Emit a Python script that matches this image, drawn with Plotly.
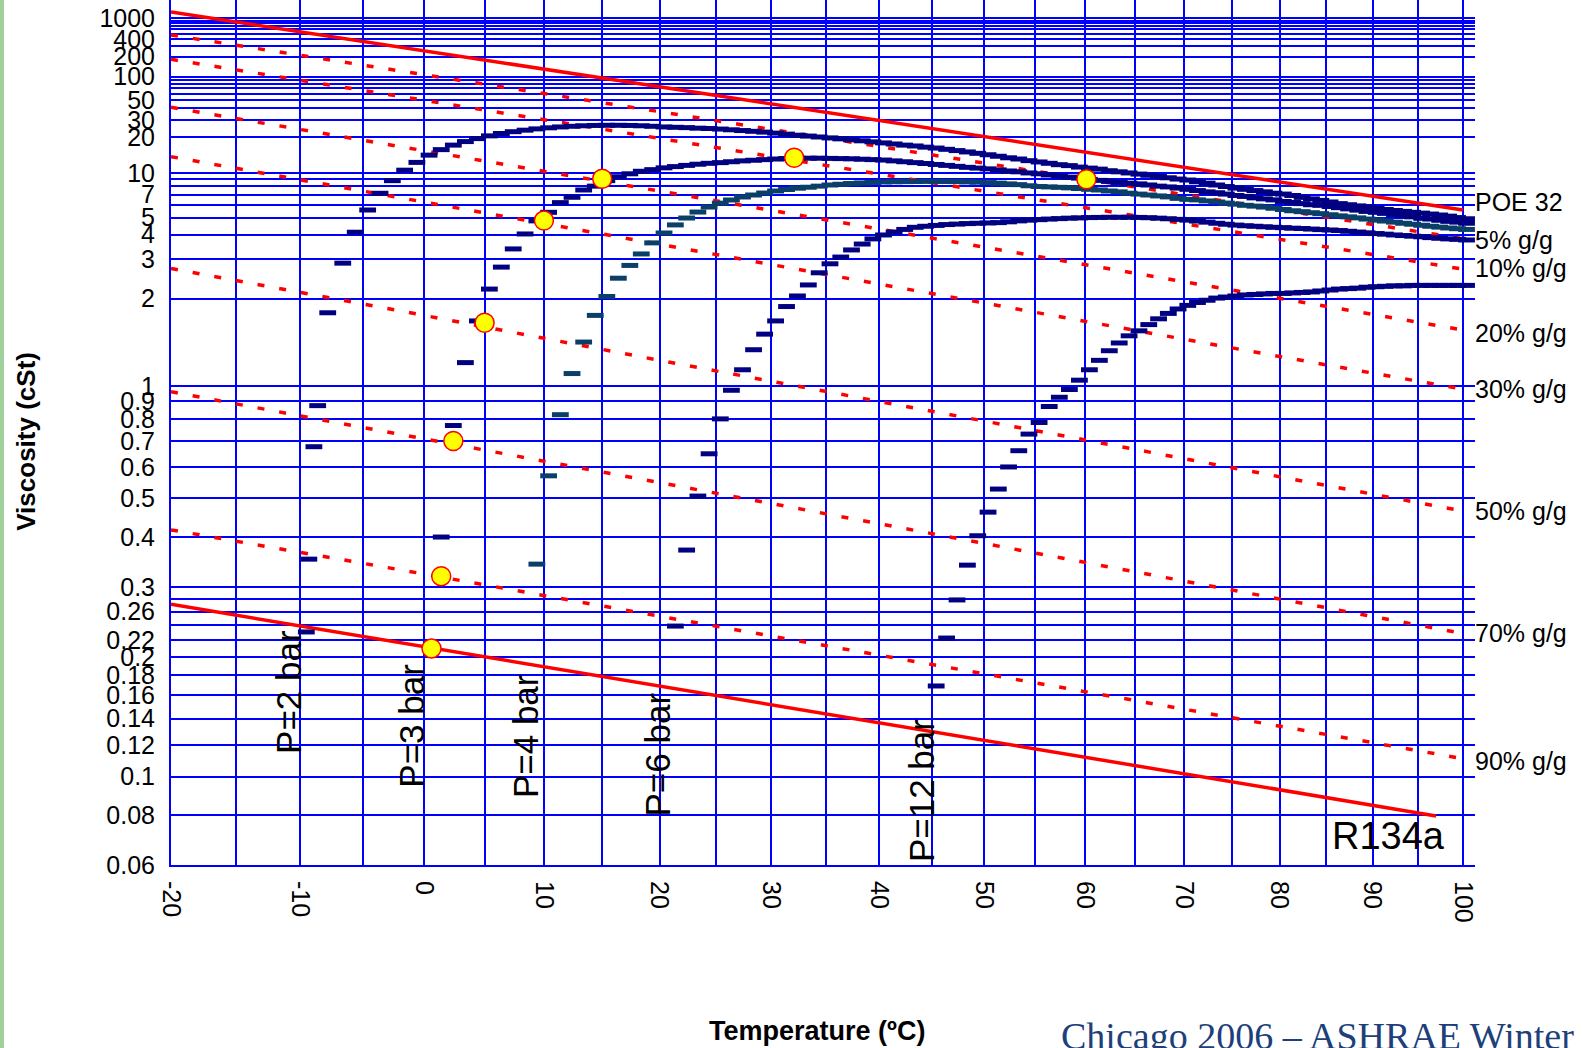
import numpy as np
import plotly.graph_objects as go

# ---------------- data ----------------
# temperatures in degC, kinematic viscosities in cSt

# pure lubricant (POE 32) and pure refrigerant (R134a)
POE_T = [-20, 0, 20, 40, 60, 80, 100]
POE_V = [1365, 249, 73.2, 29.5, 14.8, 8.6, 5.56]

R134A_T = [-20, 0, 20, 40, 60, 80, 97]
R134A_V = [0.271, 0.212, 0.169, 0.1365, 0.112, 0.0927, 0.0797]

# constant-concentration lines (refrigerant mass fraction)
CONC_T = [-20, 0, 20, 40, 60, 80, 100]
CONC_5 = [471, 107.5, 36.7, 16.5, 9.0, 5.58, 3.80]
CONC_10 = [181, 50.0, 19.6, 9.8, 5.73, 3.76, 2.68]
CONC_20 = [41.1, 15.3, 7.39, 4.29, 2.81, 2.0, 1.52]
CONC_30 = [13.5, 6.27, 3.55, 2.30, 1.63, 1.235, 0.977]
CONC_50 = [2.70, 1.72, 1.20, 0.902, 0.704, 0.567, 0.465]
CONC_70 = [0.96, 0.71, 0.548, 0.432, 0.345, 0.279, 0.229]
CONC_90 = [0.417, 0.323, 0.253, 0.202, 0.164, 0.134, 0.111]
CONC_NAMES = ["5% g/g", "10% g/g", "20% g/g", "30% g/g", "50% g/g", "70% g/g", "90% g/g"]

# constant-pressure solubility curves, one point per degree
P2_T_START = [-9.5, -9.3, -8.9, -8.6, -7.8]
P2_V_START = [0.231, 0.352, 0.676, 0.875, 1.76]
P2_T0 = -6.6
P2_V = [2.86, 4.12, 5.56, 7.14, 8.76, 10.5, 12.1, 13.9, 15.5, 17.0,
        18.3, 19.5, 20.7, 21.8, 22.7, 23.5, 24.2, 24.8, 25.3, 25.7,
        26.0, 26.2, 26.3, 26.3, 26.2, 26.0, 25.7, 25.3, 25.1, 24.9,
        24.6, 24.4, 24.1, 23.7, 23.3, 22.9, 22.5, 22.0, 21.5, 21.0,
        20.6, 20.2, 19.8, 19.4, 19.0, 18.6, 18.2, 17.8, 17.4, 17.0,
        16.7, 16.3, 16.0, 15.6, 15.2, 14.8, 14.4, 14.0, 13.6, 13.2,
        12.9, 12.5, 12.2, 11.9, 11.6, 11.4, 11.1, 10.9, 10.7, 10.4,
        10.2, 10.0, 9.8, 9.6, 9.4, 9.2, 9.0, 8.85, 8.6, 8.4,
        8.15, 7.95, 7.75, 7.6, 7.45, 7.3, 7.15, 7.05, 6.9, 6.7,
        6.55, 6.4, 6.25, 6.1, 6.0, 5.9, 5.8, 5.68, 5.6, 5.52,
        5.45, 5.38, 5.32, 5.25, 5.18, 5.1, 5.0, 4.92]

P3_T0 = 1.4
P3_V = [0.400, 0.77, 1.18, 1.64, 2.19, 2.74, 3.36, 4.03, 4.78, 5.38,
        6.19, 6.71, 7.52, 8.0, 8.76, 9.36, 9.85, 10.3, 10.6, 10.95,
        11.2, 11.45, 11.7, 11.9, 12.05, 12.25, 12.45, 12.6, 12.75, 12.9,
        13.0, 13.1, 13.1, 13.1, 13.05, 13.0, 12.95, 12.85, 12.75, 12.65,
        12.45, 12.25, 12.05, 11.85, 11.65, 11.45, 11.25, 11.05, 10.9, 10.75,
        10.55, 10.35, 10.2, 10.0, 9.85, 9.65, 9.5, 9.3, 9.15, 8.95,
        8.8, 8.65, 8.5, 8.4, 8.3, 8.15, 8.0, 7.9, 7.75, 7.6,
        7.45, 7.3, 7.2, 7.05, 6.9, 6.8, 6.65, 6.55, 6.45, 6.3,
        6.2, 6.1, 6.0, 5.95, 5.85, 5.75, 5.65, 5.55, 5.45, 5.38,
        5.3, 5.22, 5.15, 5.05, 4.95, 4.9, 4.82, 4.75, 4.7, 4.63]

P4_T0 = 9.4
P4_V = [0.342, 0.570, 0.825, 1.09, 1.38, 1.72, 2.04, 2.44, 2.79, 3.17,
        3.61, 4.08, 4.53, 4.97, 5.40, 5.80, 6.14, 6.44, 6.74, 6.95,
        7.17, 7.40, 7.58, 7.74, 7.86, 8.0, 8.15, 8.25, 8.35, 8.43,
        8.5, 8.57, 8.6, 8.62, 8.64, 8.65, 8.65, 8.64, 8.62, 8.58,
        8.54, 8.48, 8.4, 8.3, 8.2, 8.05, 7.95, 7.9, 7.85, 7.78,
        7.7, 7.6, 7.52, 7.4, 7.3, 7.15, 7.05, 6.95, 6.85, 6.75,
        6.6, 6.5, 6.45, 6.35, 6.25, 6.15, 6.05, 5.95, 5.88, 5.8,
        5.7, 5.6, 5.5, 5.43, 5.35, 5.28, 5.2, 5.12, 5.05, 4.98,
        4.9, 4.83, 4.77, 4.7, 4.63, 4.57, 4.51, 4.45, 4.4, 4.35,
        4.31, 4.27]

P6_T0 = 21.4
P6_V = [0.239, 0.371, 0.507, 0.648, 0.803, 0.97, 1.12, 1.30, 1.47, 1.64,
        1.86, 2.05, 2.28, 2.58, 2.84, 3.06, 3.32, 3.56, 3.79, 3.98,
        4.13, 4.27, 4.39, 4.45, 4.5, 4.55, 4.58, 4.61, 4.63, 4.65,
        4.67, 4.72, 4.78, 4.83, 4.86, 4.9, 4.93, 4.96, 4.98, 5.0,
        5.01, 5.02, 5.02, 5.02, 5.01, 4.99, 4.96, 4.92, 4.88, 4.83,
        4.77, 4.7, 4.63, 4.57, 4.52, 4.48, 4.45, 4.42, 4.39, 4.37,
        4.34, 4.32, 4.29, 4.26, 4.24, 4.21, 4.17, 4.13, 4.09, 4.05,
        4.02, 3.98, 3.95, 3.92, 3.89, 3.85, 3.82, 3.79, 3.77, 3.74]

P12_T0 = 45.4
P12_V = [0.169, 0.223, 0.278, 0.340, 0.403, 0.462, 0.528, 0.600, 0.66, 0.73,
         0.785, 0.87, 0.925, 0.975, 1.04, 1.12, 1.20, 1.29, 1.37, 1.45,
         1.51, 1.59, 1.67, 1.75, 1.82, 1.88, 1.93, 1.97, 2.01, 2.03,
         2.05, 2.07, 2.08, 2.09, 2.10, 2.10, 2.11, 2.12, 2.13, 2.15,
         2.17, 2.19, 2.20, 2.21, 2.23, 2.24, 2.25, 2.26, 2.26, 2.27,
         2.27, 2.27, 2.27, 2.27, 2.27, 2.27]

# operating points along the 3 bar curve
POINT_T = [0.6, 1.4, 2.4, 5.0, 10.0, 15.0, 32.1, 60.1]
POINT_V = [0.210, 0.319, 0.70, 1.615, 4.80, 9.04, 13.2, 8.96]

# axis ticks
X_GRID_C = list(range(-20, 101, 5))
X_LABEL_C = list(range(-20, 101, 10))
Y_GRID = [1000, 900, 800, 700, 600, 500, 400, 300, 200, 100, 90, 80, 70, 60, 50,
          40, 30, 20, 10, 9, 8, 7, 6, 5, 4, 3, 2, 1, 0.9, 0.8, 0.7, 0.6, 0.5,
          0.4, 0.3, 0.28, 0.26, 0.24, 0.22, 0.2, 0.18, 0.16, 0.14, 0.12, 0.1,
          0.08, 0.06]
Y_LABELS = [1000, 400, 200, 100, 50, 30, 20, 10, 7, 5, 4, 3, 2, 1, 0.9, 0.8,
            0.7, 0.6, 0.5, 0.4, 0.3, 0.26, 0.22, 0.2, 0.18, 0.16, 0.14, 0.12,
            0.1, 0.08, 0.06]


# ---------------- scales ----------------
def kelvin(t_c):
    return np.asarray(t_c, dtype=float) + 273.15


def visc_axis(v):
    """ASTM D341 style double-log viscosity scale, log-linear below 0.6 cSt."""
    v = np.atleast_1d(np.asarray(v, dtype=float))
    out = np.empty_like(v)
    hi = v >= 0.6
    vh = v[hi]
    z = vh + 0.7 + np.exp(-1.47 - 1.84 * vh - 0.51 * vh ** 2)
    out[hi] = np.log10(np.log10(z))
    z6 = 0.6 + 0.7 + np.exp(-1.47 - 1.84 * 0.6 - 0.51 * 0.36)
    w6 = np.log10(np.log10(z6))
    out[~hi] = w6 - 1.196 * np.log10(0.6 / v[~hi])
    return out


def grid_from(t0, values):
    return [t0 + i for i in range(len(values))]


def label_text(v):
    return f"{v:g}"


RED = "#FF0000"
BLUE = "#0000FF"
NAVY = "#000080"
TEAL = "#0A4068"
FONT = "Liberation Sans, Arial, sans-serif"

fig = go.Figure()

# constant-concentration lines
conc_series = [CONC_5, CONC_10, CONC_20, CONC_30, CONC_50, CONC_70, CONC_90]
for vals in conc_series:
    fig.add_trace(go.Scatter(
        x=kelvin(CONC_T), y=visc_axis(vals), mode="lines",
        line=dict(color=RED, width=3.5, dash="7px,15px"),
        showlegend=False, hoverinfo="skip"))

# pure oil and pure refrigerant
for tt, vv in [(POE_T, POE_V), (R134A_T, R134A_V)]:
    fig.add_trace(go.Scatter(
        x=kelvin(tt), y=visc_axis(vv), mode="lines",
        line=dict(color=RED, width=3.5),
        showlegend=False, hoverinfo="skip"))

# pressure curves
curves = [
    (P2_T_START + grid_from(P2_T0, P2_V), P2_V_START + P2_V, NAVY),
    (grid_from(P3_T0, P3_V), P3_V, NAVY),
    (grid_from(P4_T0, P4_V), P4_V, TEAL),
    (grid_from(P6_T0, P6_V), P6_V, NAVY),
    (grid_from(P12_T0, P12_V), P12_V, NAVY),
]
for tt, vv, col in curves:
    fig.add_trace(go.Scatter(
        x=kelvin(tt), y=visc_axis(vv), mode="markers",
        marker=dict(symbol="line-ew", size=12, color=col,
                    line=dict(color=col, width=5)),
        showlegend=False, hoverinfo="skip"))

# highlighted points
fig.add_trace(go.Scatter(
    x=kelvin(POINT_T), y=visc_axis(POINT_V), mode="markers",
    marker=dict(symbol="circle", size=19, color="#FFFF00",
                line=dict(color=RED, width=1.5)),
    showlegend=False, hoverinfo="skip"))

# ---------------- annotations ----------------
ann = []
# right-hand series labels, placed at each line's end value
end_labels = [("POE 32", POE_V[-1], 8)] + [
    (name, vals[-1], s) for name, vals, s in
    zip(CONC_NAMES, conc_series, [-1, 1, -3, 0, 0, 0, -2])]
for text, v_end, shift in end_labels:
    ann.append(dict(x=1, xref="paper", y=float(visc_axis(v_end)[0]), yref="y",
                    text=text, showarrow=False, xanchor="left", yanchor="middle",
                    xshift=-2, yshift=shift,
                    font=dict(family=FONT, size=25, color="black")))

p_labels = [("P=2 bar", 0.0897, 0.200), ("P=3 bar", 0.1846, 0.1607),
            ("P=4 bar", 0.2715, 0.1491), ("P=6 bar", 0.3731, 0.1272),
            ("P=12 bar", 0.5752, 0.0855)]
for text, xp, yp in p_labels:
    ann.append(dict(x=xp, y=yp, xref="paper", yref="paper", text=text,
                    showarrow=False, textangle=-90,
                    xanchor="center", yanchor="middle",
                    font=dict(family=FONT, size=35, color="black")))

ann.append(dict(x=0.8888, y=0.0335, xref="paper", yref="paper", text="R134a",
                showarrow=False, xanchor="left", yanchor="middle",
                font=dict(family=FONT, size=38, color="black")))
ann.append(dict(x=-0.111, y=0.4896, xref="paper", yref="paper",
                text="<b>Viscosity (cSt)</b>", showarrow=False, textangle=-90,
                xanchor="center", yanchor="middle",
                font=dict(family=FONT, size=26, color="black")))
ann.append(dict(x=0.4954, y=-0.1919, xref="paper", yref="paper",
                text="<b>Temperature (ºC)</b>", showarrow=False,
                xanchor="center", yanchor="middle",
                font=dict(family=FONT, size=27, color="black")))
ann.append(dict(x=0.6810, y=-0.1977, xref="paper", yref="paper",
                text="Chicago 2006 – ASHRAE Winter Meeting", showarrow=False,
                xanchor="left", yanchor="middle",
                font=dict(family="Liberation Serif, Times New Roman, serif",
                          size=38, color="#203F7A")))

# ---------------- layout ----------------
x_ticktext = [str(t) if t in X_LABEL_C else "" for t in X_GRID_C]
y_ticktext = [label_text(v) if v in Y_LABELS else "" for v in Y_GRID]

fig.update_layout(
    width=1582, height=1048,
    margin=dict(l=171, r=107, t=0, b=183),
    paper_bgcolor="white", plot_bgcolor="white",
    annotations=ann,
    shapes=[dict(type="rect", xref="paper", yref="paper",
                 x0=-0.1311, x1=-0.1281, y0=-0.2116, y1=1.0,
                 fillcolor="#9FCF9A", line=dict(width=0), layer="below")],
    xaxis=dict(
        type="log",
        range=[np.log10(253.15), np.log10(374.5)],
        tickvals=list(kelvin(X_GRID_C)), ticktext=x_ticktext,
        tickangle=90, ticks="", ticklabelstandoff=9,
        tickfont=dict(family=FONT, size=25, color="black"),
        showgrid=True, gridcolor=BLUE, gridwidth=2,
        showline=True, linecolor=BLUE, linewidth=2,
        zeroline=False),
    yaxis=dict(
        range=[float(visc_axis(0.06)[0]), 0.5322],
        tickvals=list(visc_axis(Y_GRID)), ticktext=y_ticktext,
        ticks="", ticklabelstandoff=9,
        tickfont=dict(family=FONT, size=25, color="black"),
        showgrid=True, gridcolor=BLUE, gridwidth=2,
        showline=True, linecolor=BLUE, linewidth=2,
        zeroline=False),
)

fig.write_html("out.html")
